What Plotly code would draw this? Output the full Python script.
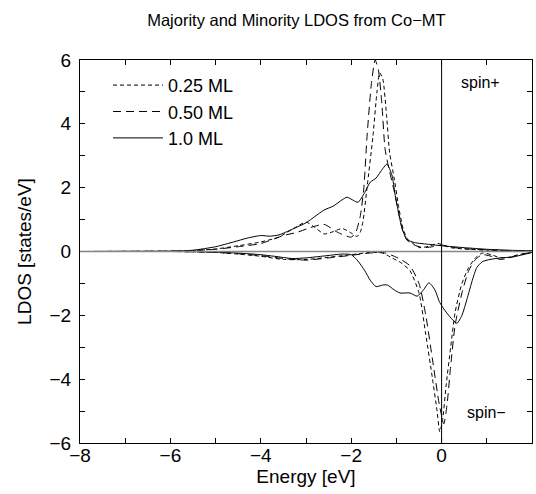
import plotly.graph_objects as go

# ---- data ----
# 0.25 ML, majority (spin+)
x025_up = [-8, -6, -5.5, -5, -4.5, -4, -3.6, -3.3, -3.0, -2.8, -2.6, -2.4, -2.2, -2.0, -1.87, -1.8, -1.74,
           -1.65, -1.52, -1.43, -1.37, -1.3, -1.22, -1.15, -1.05, -0.95, -0.85, -0.75, -0.6, -0.48, -0.3,
           -0.08, 0.2, 0.5, 1.0, 1.5, 2.0]
y025_up = [0, 0.01, 0.03, 0.08, 0.18, 0.3, 0.45, 0.7, 0.92, 0.75, 0.55, 0.62, 0.72, 0.58, 0.47, 0.6, 0.94,
           2.0, 3.6, 5.0, 5.6, 5.4, 4.3, 3.1, 2.3, 1.4, 0.7, 0.38, 0.22, 0.12, 0.16,
           0.25, 0.12, 0.08, 0.04, 0.02, 0.01]
# 0.25 ML, minority (spin-)
x025_dn = [-8, -6, -5, -4.5, -4, -3.5, -3, -2.5, -2, -1.6, -1.3, -1.1, -0.9, -0.7, -0.5, -0.35, -0.2,
           -0.1, -0.04, 0.02, 0.1, 0.2, 0.3, 0.45, 0.6, 0.75, 0.9, 1.1, 1.3, 1.5, 1.7, 2.0]
y025_dn = [0, 0, -0.03, -0.08, -0.15, -0.25, -0.25, -0.18, -0.1, -0.03, -0.05, -0.2, -0.35, -0.6, -1.3, -2.6, -4.0,
           -5.0, -5.65, -5.3, -4.2, -3.0, -1.9, -1.0, -0.5, -0.2, -0.05, -0.1, -0.2, -0.18, -0.1, -0.03]
# 0.50 ML, majority
x050_up = [-8, -6, -5.5, -5, -4.5, -4, -3.5, -3.2, -2.9, -2.6, -2.3, -2.0, -1.9, -1.8, -1.72, -1.65, -1.55,
           -1.47, -1.4, -1.32, -1.25, -1.15, -1.05, -0.95, -0.85, -0.75, -0.6, -0.4, -0.2, 0.0, 0.3,
           0.6, 1.0, 1.5, 2.0]
y050_up = [0, 0.01, 0.03, 0.07, 0.15, 0.25, 0.5, 0.6, 0.75, 0.85, 0.6, 0.45, 0.6, 1.1, 2.0, 3.6, 5.3,
           6.0, 5.7, 4.6, 3.2, 2.5, 1.9, 1.2, 0.6, 0.33, 0.2, 0.12, 0.15, 0.2, 0.12,
           0.08, 0.05, 0.03, 0.02]
# 0.50 ML, minority
x050_dn = [-8, -6, -5, -4.5, -4, -3.5, -3, -2.5, -2, -1.6, -1.3, -1.1, -0.9, -0.7, -0.5, -0.35, -0.2,
           -0.05, 0.05, 0.12, 0.2, 0.3, 0.45, 0.6, 0.75, 0.9, 1.1, 1.3, 1.5, 1.7, 2.0]
y050_dn = [0, 0, -0.03, -0.07, -0.13, -0.22, -0.27, -0.2, -0.12, -0.05, -0.03, -0.12, -0.25, -0.45, -1.0, -2.0, -3.4,
           -4.8, -5.4, -4.8, -3.6, -2.3, -1.3, -0.6, -0.25, -0.1, -0.15, -0.25, -0.2, -0.1, -0.03]
# 1.0 ML, majority
x100_up = [-8, -6, -5.5, -5, -4.6, -4.3, -4.0, -3.8, -3.6, -3.3, -3.0, -2.8, -2.6, -2.4, -2.2, -2.09, -1.95,
           -1.85, -1.7, -1.58, -1.45, -1.3, -1.21, -1.1, -1.03, -0.95, -0.88, -0.77, -0.6, -0.26, 0.0,
           0.5, 1.0, 1.5, 2.0]
y100_up = [0, 0.01, 0.04, 0.15, 0.3, 0.42, 0.5, 0.48, 0.52, 0.7, 0.9, 1.1, 1.3, 1.42, 1.62, 1.7, 1.6,
           1.54, 1.85, 2.17, 2.3, 2.6, 2.74, 2.4, 1.8, 1.2, 0.75, 0.38, 0.28, 0.22, 0.18,
           0.12, 0.07, 0.04, 0.02]
# 1.0 ML, minority
x100_dn = [-8, -5.5, -5, -4.5, -4, -3.7, -3.3, -3.0, -2.6, -2.2, -2.0, -1.85, -1.7, -1.58, -1.45, -1.3, -1.2,
           -1.05, -0.92, -0.7, -0.54, -0.4, -0.28, -0.15, -0.04, 0.1, 0.25, 0.34, 0.45, 0.56, 0.68,
           0.78, 0.9, 1.07, 1.3, 1.58, 1.8, 2.0]
y100_dn = [0, 0, -0.02, -0.05, -0.1, -0.15, -0.22, -0.2, -0.14, -0.08, -0.1, -0.3, -0.6, -0.9, -1.1, -1.05, -1.05,
           -1.2, -1.3, -1.3, -1.4, -1.2, -0.98, -1.2, -1.6, -1.9, -2.15, -2.25, -2.0, -1.5, -0.9,
           -0.5, -0.32, -0.25, -0.2, -0.17, -0.1, -0.03]

series_names = ["0.25 ML", "0.50 ML", "1.0 ML"]
xtick_vals = list(range(-8, 3))
ytick_vals = list(range(-6, 7))

FONT = "Liberation Sans, Arial, sans-serif"

fig = go.Figure()

dashes = ["4px,3px", "8px,5px", "solid"]
data = [(x025_up, y025_up, x025_dn, y025_dn),
        (x050_up, y050_up, x050_dn, y050_dn),
        (x100_up, y100_up, x100_dn, y100_dn)]

for name, dash, (xu, yu, xd, yd) in zip(series_names, dashes, data):
    fig.add_trace(go.Scatter(x=xu, y=yu, mode="lines", name=name, legendgroup=name,
                             line=dict(color="black", width=1, dash=dash, shape="spline", smoothing=0.6)))
    fig.add_trace(go.Scatter(x=xd, y=yd, mode="lines", name=name, legendgroup=name, showlegend=False,
                             line=dict(color="black", width=1, dash=dash, shape="spline", smoothing=0.6)))

# reference lines
fig.add_shape(type="line", x0=-8, x1=2, y0=0, y1=0, xref="x", yref="y",
              line=dict(color="#888888", width=1.5), layer="above")
fig.add_shape(type="line", x0=0, x1=0, y0=-6, y1=6, xref="x", yref="y",
              line=dict(color="black", width=1), layer="above")

fig.add_annotation(x=0.87, y=5.3, text="spin+", showarrow=False, xanchor="center",
                   font=dict(family=FONT, size=16, color="black"))
fig.add_annotation(x=1.0, y=-5.05, text="spin\u2212", showarrow=False, xanchor="center",
                   font=dict(family=FONT, size=16, color="black"))

fig.update_layout(
    width=536, height=494,
    margin=dict(l=80, r=4, t=60, b=51),
    paper_bgcolor="white", plot_bgcolor="white",
    font=dict(family=FONT, size=19, color="black"),
    title=dict(text="Majority and Minority LDOS from Co\u2212MT", x=0.553, xanchor="center",
               y=0.96, yanchor="middle", font=dict(family=FONT, size=16.5, color="black")),
    showlegend=True,
    legend=dict(x=0.062, y=0.982, xanchor="left", yanchor="top", bgcolor="rgba(0,0,0,0)",
                font=dict(family=FONT, size=18, color="black"), tracegroupgap=0, itemwidth=50),
    xaxis=dict(range=[-8, 2], tickvals=xtick_vals,
               ticktext=[("\u2212" + str(-v) if v < 0 else str(v)) if v % 2 == 0 else "" for v in xtick_vals],
               ticks="inside", ticklen=5, tickcolor="black", showline=True, linecolor="black",
               linewidth=1, mirror="ticks", showgrid=False, zeroline=False,
               tickfont=dict(size=19), ticklabelstandoff=-5,
               title=dict(text="Energy [eV]", standoff=2, font=dict(size=19))),
    yaxis=dict(range=[-6, 6], tickvals=ytick_vals,
               ticktext=[("\u2212" + str(-v) if v < 0 else str(v)) if v % 2 == 0 else "" for v in ytick_vals],
               ticks="inside", ticklen=5, tickcolor="black", showline=True, linecolor="black",
               linewidth=1, mirror="ticks", showgrid=False, zeroline=False,
               tickfont=dict(size=19), ticklabelstandoff=4,
               title=dict(text="LDOS [states/eV]", standoff=12, font=dict(size=19))),
)

fig.write_html("out.html")
